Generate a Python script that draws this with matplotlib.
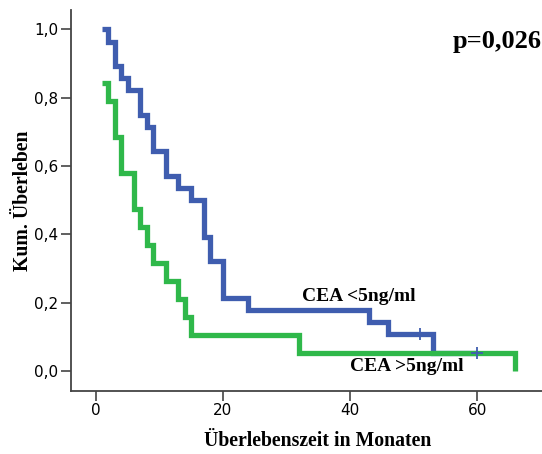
import matplotlib
matplotlib.use('Agg')
import matplotlib.pyplot as plt

# Kaplan-Meier steps, CEA < 5 ng/ml (n=28)
low_times = [1, 2, 3, 4, 5, 7, 8, 9, 11, 13, 15, 17, 18, 20, 24, 43, 46, 53, 60]
low_surv = [1.0, 0.964, 0.893, 0.857, 0.821, 0.750, 0.714, 0.643, 0.571, 0.536,
            0.500, 0.393, 0.321, 0.214, 0.179, 0.143, 0.107, 0.054, 0.054]
low_censored = [51, 60]

# Kaplan-Meier steps, CEA > 5 ng/ml (n=19)
high_times = [1, 2, 3, 4, 6, 7, 8, 9, 11, 13, 14, 15, 32, 66]
high_surv = [0.842, 0.789, 0.684, 0.579, 0.474, 0.421, 0.368, 0.316, 0.263,
             0.211, 0.158, 0.105, 0.053, 0.0]

x_ticks = [0, 20, 40, 60]
y_ticks = [0.0, 0.2, 0.4, 0.6, 0.8, 1.0]
y_ticklabels = ['0,0', '0,2', '0,4', '0,6', '0,8', '1,0']

blue = '#3f5daf'
green = '#2fb84a'
tick_font = ['Liberation Sans Narrow', 'DejaVu Sans']

fig = plt.figure(figsize=(5.42, 4.54), dpi=100)
ax = fig.add_axes([0.1305, 0.1394, 0.8695, 0.8386])

ax.step(low_times, low_surv, where='post', color=blue, lw=3.8,
        solid_joinstyle='miter', solid_capstyle='butt')
ax.step(high_times, high_surv, where='post', color=green, lw=3.8,
        solid_joinstyle='miter', solid_capstyle='butt')

# censoring marks sit on the last step of each step function
cens_y = []
for c in low_censored:
    idx = max(i for i, t in enumerate(low_times) if t <= c)
    cens_y.append(low_surv[idx])
ax.plot(low_censored, cens_y, ls='none', marker='+', ms=9, mew=1.3, color=blue)

ax.set_xlim(-3.93, 70.2)
ax.set_ylim(-0.0577, 1.0565)

ax.set_xticks(x_ticks)
ax.set_xticklabels([str(t) for t in x_ticks], family=tick_font, fontsize=11)
ax.set_yticks(y_ticks)
ax.set_yticklabels(y_ticklabels, family=tick_font, fontsize=11)
ax.tick_params(direction='out', length=7, width=1.2, color='#444444', pad=2)

for side in ['top', 'right']:
    ax.spines[side].set_visible(False)
for side in ['left', 'bottom']:
    ax.spines[side].set_color('#444444')
    ax.spines[side].set_linewidth(1.3)

ax.set_xlabel('Überlebenszeit in Monaten', family='Liberation Serif',
              fontweight='bold', fontsize=14.2, labelpad=9)
ax.xaxis.label.set_x(0.525)
ax.set_ylabel('Kum. Überleben', family='Liberation Serif',
              fontweight='bold', fontsize=14.2, labelpad=1)

ax.text(70.2, 0.965, 'p=0,026', family='Liberation Serif', fontweight='bold',
        fontsize=19, ha='right', va='center')
ax.text(32.5, 0.218, 'CEA <5ng/ml', family='Liberation Serif',
        fontweight='bold', fontsize=14, ha='left', va='center')
ax.text(40.0, 0.013, 'CEA >5ng/ml', family='Liberation Serif',
        fontweight='bold', fontsize=14, ha='left', va='center')

fig.savefig('out.png', dpi=100)
